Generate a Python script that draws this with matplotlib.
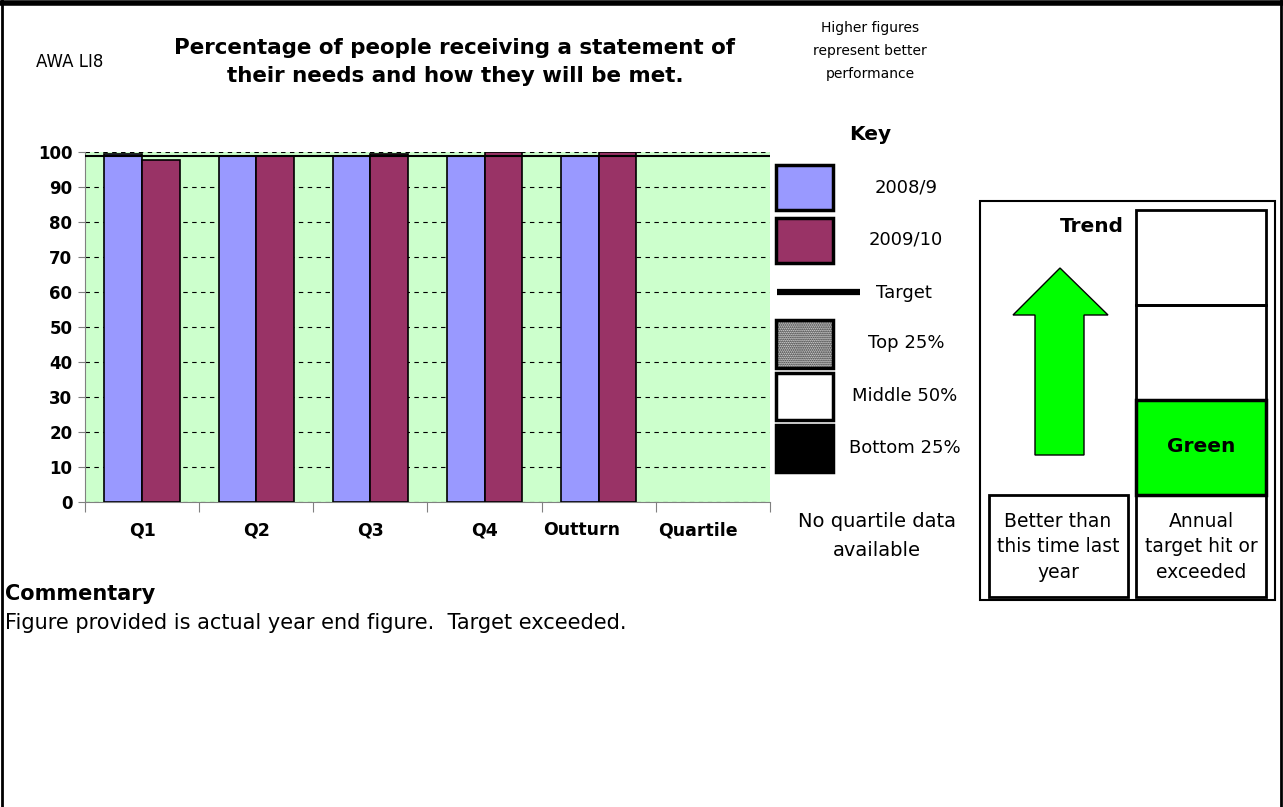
import numpy as np
import matplotlib.pyplot as plt
from matplotlib.patches import Rectangle, Polygon
from matplotlib.transforms import ScaledTranslation

plt.rcParams["font.family"] = ["DejaVu Sans"]

# data
categories = ["Q1", "Q2", "Q3", "Q4", "Outturn", "Quartile"]
values_0809 = [99.3, 98.8, 98.8, 98.8, 98.8]
values_0910 = [97.8, 98.8, 99.4, 99.9, 99.9]
target = 98.8
key_labels = ["2008/9", "2009/10", "Target", "Top 25%", "Middle 50%", "Bottom 25%"]

W, H = 1283, 807
fig = plt.figure(figsize=(W / 100, H / 100), dpi=100)

# overlay axes in pixel coords for the page furniture
page = fig.add_axes([0, 0, 1, 1])
page.set_xlim(0, W)
page.set_ylim(H, 0)
page.axis("off")


def box(x0, y0, x1, y1, lw=1.5, fc="none", hatch=None, z=2):
    page.add_patch(Rectangle((x0, y0), x1 - x0, y1 - y0, fc=fc, ec="black",
                             lw=lw, hatch=hatch, zorder=z))


# page border
page.plot([0, W], [2.5, 2.5], color="black", lw=4)
page.plot([1.5, 1.5], [0, H], color="black", lw=2)
page.plot([W - 2, W - 2], [0, H], color="black", lw=2)

# header texts
page.text(70, 62, "AWA LI8", ha="center", va="center", fontsize=12)
page.text(455, 62, "Percentage of people receiving a statement of\ntheir needs and how they will be met.",
          ha="center", va="center", fontsize=15.4, fontweight="bold", linespacing=1.5)
page.text(870, 51, "Higher figures\nrepresent better\nperformance", ha="center", va="center",
          fontsize=10, linespacing=1.8)

# main chart
ax = fig.add_axes([85 / W, (H - 502) / H, 685 / W, 350 / H])
ax.set_facecolor("#ccffcc")
x = np.arange(len(values_0809))
bw = 0.33
ax.bar(x - bw / 2, values_0809, bw, color="#9999ff", edgecolor="black", lw=1.2, zorder=3)
ax.bar(x + bw / 2, values_0910, bw, color="#993366", edgecolor="black", lw=1.2, zorder=3)
ax.axhline(target, color="black", lw=1.5, zorder=4)
ax.set_xlim(-0.5, len(categories) - 0.5)
ax.set_ylim(0, 100)
ax.set_yticks(np.arange(0, 101, 10))
ax.yaxis.grid(True, color="black", linestyle=(0, (4, 4)), lw=0.8)
ax.set_axisbelow(True)
ax.set_xticks(np.arange(-0.5, len(categories)), [])
ax.set_xticks(np.arange(len(categories)), categories, minor=True)
ax.tick_params(axis="x", which="major", length=7, color="gray")
ax.tick_params(axis="x", which="minor", length=0, pad=14)
ax.tick_params(axis="y", length=5, color="gray", pad=4)
shifts = [0, 0, 0, 0, -17, -15]
for lab, dx in zip(ax.get_xticklabels(minor=True), shifts):
    lab.set_fontweight("bold")
    lab.set_fontsize(12.5)
    lab.set_transform(lab.get_transform() + ScaledTranslation(dx / 100, 0, fig.dpi_scale_trans))
for lab in ax.get_yticklabels():
    lab.set_fontweight("bold")
    lab.set_fontsize(12)
for s in ["top", "right"]:
    ax.spines[s].set_visible(False)
ax.spines["left"].set_color("gray")
ax.spines["bottom"].set_color("gray")

# key
page.text(870, 134, "Key", ha="center", va="center", fontsize=14.5, fontweight="bold")
box(776, 165, 833, 210, lw=2.5, fc="#9999ff")
box(776, 218, 833, 263, lw=2.5, fc="#993366")
page.plot([777, 860], [292, 292], color="black", lw=4.5, solid_capstyle="butt")
box(776, 320, 833, 368, lw=2.5, fc="white", hatch="........")
box(776, 373, 833, 420, lw=2.5, fc="white")
box(776, 425, 833, 472, lw=2.5, fc="black")
key_y = [188, 240, 293, 343, 396, 448]
key_x = [906, 906, 904, 906, 905, 905]
for kx, ky, lab in zip(key_x, key_y, key_labels):
    page.text(kx, ky, lab, ha="center", va="center", fontsize=13)
page.text(877, 536, "No quartile data\navailable", ha="center", va="center", fontsize=14,
          linespacing=1.65)

# commentary
page.text(5, 594, "Commentary", ha="left", va="center", fontsize=15, fontweight="bold")
page.text(5, 623, "Figure provided is actual year end figure.  Target exceeded.",
          ha="left", va="center", fontsize=15)

# trend / status panel
box(980, 201, 1275, 600, lw=1.5)
page.text(1092, 227, "Trend", ha="center", va="center", fontsize=14.5, fontweight="bold")
page.add_patch(Polygon([(1060, 268), (1108, 315), (1084, 315), (1084, 455), (1035, 455),
                        (1035, 315), (1013, 315)], closed=True, fc="#00ff00", ec="black",
                       lw=1, zorder=3))
box(1136, 210, 1266, 305, lw=2)
box(1136, 305, 1266, 400, lw=2)
box(1136, 400, 1266, 495, lw=2.5, fc="#00ff00")
page.text(1201, 447, "Green", ha="center", va="center", fontsize=14.5, fontweight="bold")
box(989, 495, 1128, 597, lw=2)
box(1136, 495, 1266, 597, lw=2)
page.text(1058, 547, "Better than\nthis time last\nyear", ha="center", va="center",
          fontsize=13.5, linespacing=1.45)
page.text(1201, 547, "Annual\ntarget hit or\nexceeded", ha="center", va="center",
          fontsize=13.5, linespacing=1.45)

fig.savefig("out.png", dpi=100)
